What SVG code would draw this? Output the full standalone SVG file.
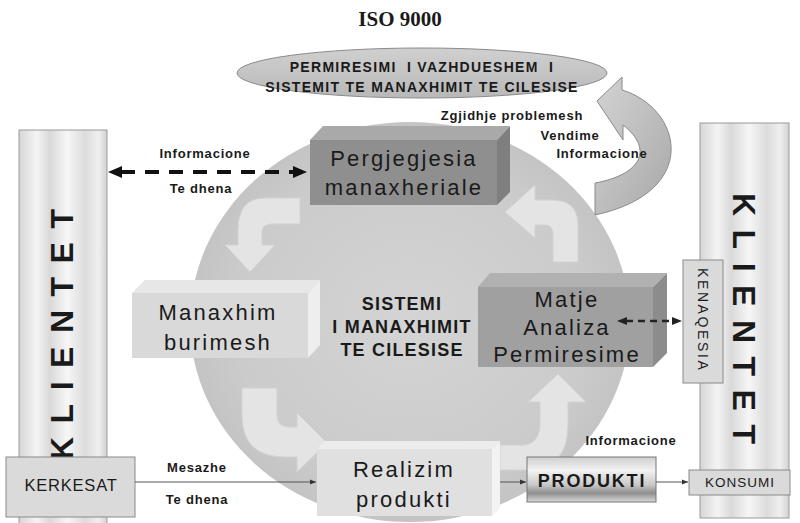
<svg xmlns="http://www.w3.org/2000/svg" width="800" height="523" viewBox="0 0 800 523">
<defs>
<style>
.t{font-family:"Liberation Sans",Arial,sans-serif;fill:#1a1a1a}
.big{font-size:22px;letter-spacing:2.2px;text-anchor:middle}
.lbl{font-size:13px;font-weight:bold;letter-spacing:0.8px}
.thin{stroke:#555;stroke-width:1;fill:none}
.colbox{fill:url(#metal);stroke:#9a9a9a;stroke-width:1}
.tag{fill:#dadada;stroke:#8a8a8a;stroke-width:1}
.carrow{fill:#e4e4e4;stroke:#d2d2d2;stroke-width:1}
</style>
<linearGradient id="metal" x1="0" y1="0" x2="1" y2="0">
<stop offset="0" stop-color="#d6d6d6"/>
<stop offset="0.2" stop-color="#f4f4f4"/>
<stop offset="0.35" stop-color="#d9d9d9"/>
<stop offset="0.55" stop-color="#f6f6f6"/>
<stop offset="0.75" stop-color="#dcdcdc"/>
<stop offset="0.9" stop-color="#efefef"/>
<stop offset="1" stop-color="#d2d2d2"/>
</linearGradient>
<radialGradient id="disk" cx="0.5" cy="0.5" r="0.5">
<stop offset="0" stop-color="#d4d4d4"/>
<stop offset="0.8" stop-color="#cbcbcb"/>
<stop offset="1" stop-color="#c4c4c4"/>
</radialGradient>
<linearGradient id="ell" x1="0" y1="0" x2="0" y2="1">
<stop offset="0" stop-color="#d0d0d0"/>
<stop offset="1" stop-color="#b8b8b8"/>
</linearGradient>
<linearGradient id="prod" x1="0" y1="0" x2="0" y2="1">
<stop offset="0" stop-color="#cfcfcf"/>
<stop offset="0.3" stop-color="#f2f2f2"/>
<stop offset="0.62" stop-color="#c8c8c8"/>
<stop offset="0.8" stop-color="#8e8e8e"/>
<stop offset="1" stop-color="#d8d8d8"/>
</linearGradient>
<linearGradient id="bigarrow" x1="0" y1="0" x2="1" y2="1">
<stop offset="0" stop-color="#d4d4d4"/>
<stop offset="1" stop-color="#a8a8a8"/>
</linearGradient>
<marker id="ah" viewBox="0 0 10 10" refX="10" refY="5" markerWidth="6" markerHeight="6" orient="auto-start-reverse">
<path d="M0,1 L10,5 L0,9 Z" fill="#333"/>
</marker>
</defs>

<rect width="800" height="523" fill="#ffffff"/>

<text x="400" y="26" font-family="Liberation Serif, Times New Roman, serif" font-size="21" font-weight="bold" text-anchor="middle" fill="#1a1a1a">ISO 9000</text>

<g id="disc">
<ellipse cx="410" cy="322" rx="220" ry="200" fill="url(#disk)"/>
</g>

<g id="cycle-arrows">
<path class="carrow" d="M300 198 L265 198 Q238 198 238 230 L238 245 L225 245 L250 272 L275 245 L262 245 L262 232 Q262 224 272 224 L300 224 Z"/>
<path class="carrow" d="M553 262 L578 262 L578 225 Q578 200 552 200 L535 200 L535 185 L505 212 L535 238 L535 225 L545 225 Q553 225 553 235 Z"/>
<path class="carrow" d="M242 388 L277 388 L277 415 Q277 427 290 427 L297 427 L297 413 L327 443 L297 472 L297 457 L285 457 Q242 457 242 415 Z"/>
<path class="carrow" d="M500 445 L522 445 Q540 445 540 422 L540 402 L528 402 L558 374 L586 402 L568 402 L568 425 Q568 470 525 470 L500 470 Z"/>
</g>

<g id="improvement">
<ellipse cx="422" cy="73" rx="185" ry="25" fill="url(#ell)" stroke="#8a8a8a" stroke-width="1"/>
<text class="t" x="422" y="72" font-size="14" font-weight="bold" letter-spacing="1.3" text-anchor="middle" xml:space="preserve" style="white-space:pre">PERMIRESIMI  I VAZHDUESHEM  I</text>
<text class="t" x="422" y="92" font-size="14" font-weight="bold" letter-spacing="1.3" text-anchor="middle">SISTEMIT TE MANAXHIMIT TE CILESISE</text>
</g>

<g id="return-arrow">
<path d="M595 183 C640 175 655 150 623 125 L623 140 L597 101 L622 77 L622 90 C682 108 702 192 595 215 Z" fill="url(#bigarrow)" stroke="#8a8a8a" stroke-width="1"/>
</g>

<g id="klientet-left">
<rect class="colbox" x="19" y="130" width="88" height="400"/>
<text class="t" transform="translate(73,460) rotate(-90)" font-size="32" font-weight="bold" letter-spacing="13.5">KLIENTET</text>
</g>

<g id="klientet-right">
<rect class="colbox" x="700" y="123" width="89" height="395"/>
<text class="t" transform="translate(733,193) rotate(90)" font-size="32" font-weight="bold" letter-spacing="13.5">KLIENTET</text>
</g>

<g id="pergjegjesia">
<polygon points="310,140 323,126 510,126 497,140" fill="#a9a9a9"/>
<polygon points="497,140 510,126 510,192 497,205" fill="#7f7f7f"/>
<rect x="310" y="140" width="187" height="65" fill="#8f8f8f"/>
<text class="t big" x="404" y="166">Pergjegjesia</text>
<text class="t big" x="404" y="195">manaxheriale</text>
</g>

<g id="manaxhim">
<polygon points="132,293 145,280 320,280 308,293" fill="#e7e7e7"/>
<polygon points="308,293 320,280 320,345 308,358" fill="#eeeeee"/>
<rect x="132" y="293" width="176" height="65" fill="#d9d9d9"/>
<text class="t big" x="218" y="320">Manaxhim</text>
<text class="t big" x="218" y="350">burimesh</text>
</g>

<g id="sistemi">
<text class="t" x="402" y="310" font-size="18" font-weight="bold" letter-spacing="1.2" text-anchor="middle">SISTEMI</text>
<text class="t" x="402" y="333" font-size="18" font-weight="bold" letter-spacing="1.2" text-anchor="middle">I MANAXHIMIT</text>
<text class="t" x="402" y="356" font-size="18" font-weight="bold" letter-spacing="1.2" text-anchor="middle">TE CILESISE</text>
</g>

<g id="matje">
<polygon points="478,287 490,273 667,273 653,287" fill="#b1b1b1"/>
<polygon points="653,287 667,273 667,353 653,367" fill="#8c8c8c"/>
<rect x="478" y="287" width="175" height="80" fill="#a0a0a0"/>
<text class="t big" x="567" y="307">Matje</text>
<text class="t big" x="567" y="335">Analiza</text>
<text class="t big" x="567" y="362">Permiresime</text>
</g>

<g id="kenaqesia">
<rect class="tag" x="683" y="260" width="40" height="123" fill="#c4c4c4"/>
<text class="t" transform="translate(698,268) rotate(90)" font-size="14" letter-spacing="2.6">KENAQESIA</text>
</g>

<g id="realizim">
<polygon points="317,449 325,441 500,441 492,449" fill="#ececec"/>
<polygon points="492,449 500,441 500,508 492,516" fill="#f3f3f3"/>
<rect x="317" y="449" width="175" height="67" fill="#e0e0e0"/>
<text class="t big" x="404" y="477">Realizim</text>
<text class="t big" x="404" y="507">produkti</text>
</g>

<g id="kerkesat">
<rect class="tag" x="6" y="457" width="129" height="60"/>
<text class="t" x="71" y="491" font-size="16.5" letter-spacing="0.8" text-anchor="middle">KERKESAT</text>
</g>

<g id="produkti">
<rect x="527" y="457" width="129" height="45" fill="url(#prod)" stroke="#777" stroke-width="1"/>
<text class="t" x="592" y="487" font-size="18" font-weight="bold" letter-spacing="1.8" text-anchor="middle">PRODUKTI</text>
</g>

<g id="konsumi">
<rect class="tag" x="689" y="470" width="101" height="25" fill="#e2e2e2"/>
<text class="t" x="740" y="487" font-size="13.5" letter-spacing="1" text-anchor="middle">KONSUMI</text>
</g>

<g id="connectors">
<line x1="121" y1="172" x2="294" y2="172" stroke="#111" stroke-width="4" stroke-dasharray="14 10"/>
<polygon points="108,172 122,166 122,178" fill="#111"/>
<polygon points="307,172 293,166 293,178" fill="#111"/>
<line x1="626" y1="321" x2="673" y2="321" stroke="#222" stroke-width="2.5" stroke-dasharray="7 5"/>
<polygon points="617,321 627,317 627,325" fill="#222"/>
<polygon points="682,321 672,317 672,325" fill="#222"/>
<line class="thin" x1="135" y1="482" x2="316" y2="482" marker-end="url(#ah)"/>
<line class="thin" x1="500" y1="482" x2="526" y2="482" marker-end="url(#ah)"/>
<line class="thin" x1="656" y1="482" x2="688" y2="482" marker-end="url(#ah)"/>
</g>

<g id="labels">
<text class="t lbl" x="205" y="158" text-anchor="middle">Informacione</text>
<text class="t lbl" x="201" y="193" text-anchor="middle">Te dhena</text>
<text class="t lbl" x="512" y="120" text-anchor="middle">Zgjidhje problemesh</text>
<text class="t lbl" x="570" y="140" text-anchor="middle">Vendime</text>
<text class="t lbl" x="602" y="158" text-anchor="middle">Informacione</text>
<text class="t lbl" x="197" y="472" text-anchor="middle">Mesazhe</text>
<text class="t lbl" x="197" y="504" text-anchor="middle">Te dhena</text>
<text class="t lbl" x="631" y="445" text-anchor="middle">Informacione</text>
</g>
</svg>
